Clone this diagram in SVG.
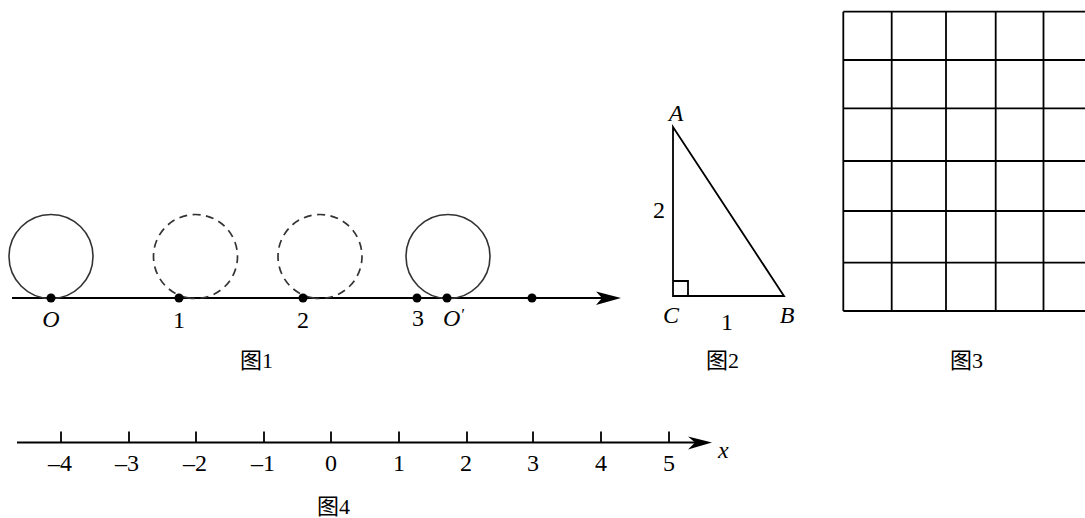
<svg xmlns="http://www.w3.org/2000/svg" width="1085" height="518" viewBox="0 0 1085 518">
<style>
.ln{stroke:#000;stroke-width:1.8;fill:none}
.dash{stroke:#333;stroke-width:1.7;fill:none;stroke-dasharray:8 5.5}
.circ{stroke:#333;stroke-width:1.6;fill:none}
.t{font-family:"Liberation Serif","Times New Roman",serif;font-size:24px;fill:#000}
.it{font-style:italic}
.cap{font-family:"Liberation Serif","Noto Sans CJK SC",serif;font-size:22px;fill:#000}
.n4{font-family:"Liberation Serif","Times New Roman",serif;font-size:24px;fill:#000;text-anchor:middle}
.mid{text-anchor:middle}
</style>
<rect width="1085" height="518" fill="#fff"/>

<g id="fig1">
  <g id="fig1-axis">
    <line class="ln" x1="12" y1="298" x2="604" y2="298"/>
    <path d="M596,291.5 L621,298 L596,305 L602,298 Z" fill="#000"/>
  </g>
  <g id="fig1-circles">
    <circle class="circ" cx="51" cy="256.5" r="42"/>
    <circle class="dash" cx="195.5" cy="256.5" r="42" transform="rotate(100 195.5 256.5)"/>
    <circle class="dash" cx="320" cy="256.5" r="42" transform="rotate(100 320 256.5)"/>
    <circle class="circ" cx="448" cy="256.5" r="42"/>
  </g>
  <g id="fig1-points" fill="#000">
    <circle cx="51" cy="298" r="4.5"/>
    <circle cx="179" cy="298" r="4.5"/>
    <circle cx="303" cy="298" r="4.5"/>
    <circle cx="417" cy="298" r="4.5"/>
    <circle cx="447" cy="298" r="4.5"/>
    <circle cx="532" cy="298" r="4.5"/>
  </g>
  <g id="fig1-labels">
    <text class="t it mid" x="51" y="327">O</text>
    <text class="t mid" x="179" y="328">1</text>
    <text class="t mid" x="303" y="328">2</text>
    <text class="t mid" x="418" y="326">3</text>
    <text class="t it" x="443" y="326">O<tspan font-size="17" dy="-6">′</tspan></text>
    <text class="cap" x="240" y="368">图1</text>
  </g>
</g>

<g id="fig2">
  <path class="ln" d="M673,127 L673,296 L784,296 Z"/>
  <path class="ln" d="M673,281 L688,281 L688,296" stroke-width="1.4"/>
  <text class="t it mid" x="676" y="121">A</text>
  <text class="t mid" x="659" y="218">2</text>
  <text class="t it mid" x="671" y="323">C</text>
  <text class="t mid" x="727" y="330">1</text>
  <text class="t it mid" x="787" y="323">B</text>
  <text class="cap" x="706" y="368">图2</text>
</g>

<g id="fig3">
  <g id="grid" class="ln" stroke-width="1.8">
    <line x1="843.3" y1="11.7" x2="1090" y2="11.7"/>
    <line x1="843.3" y1="60" x2="1090" y2="60"/>
    <line x1="843.3" y1="108.3" x2="1090" y2="108.3"/>
    <line x1="843.3" y1="161" x2="1090" y2="161"/>
    <line x1="843.3" y1="211" x2="1090" y2="211"/>
    <line x1="843.3" y1="262.7" x2="1090" y2="262.7"/>
    <line x1="843.3" y1="311" x2="1090" y2="311"/>
    <line x1="843.3" y1="11.7" x2="843.3" y2="311"/>
    <line x1="891.7" y1="11.7" x2="891.7" y2="311"/>
    <line x1="946" y1="11.7" x2="946" y2="311"/>
    <line x1="995.7" y1="11.7" x2="995.7" y2="311"/>
    <line x1="1043.5" y1="11.7" x2="1043.5" y2="311"/>
  </g>
  <text class="cap" x="950" y="368">图3</text>
</g>

<g id="fig4">
  <g id="fig4-axis">
    <line class="ln" x1="17" y1="442.5" x2="696" y2="442.5"/>
    <path d="M688,436.5 L712,442.5 L688,449.5 L695,442.5 Z" fill="#000"/>
  </g>
  <g id="fig4-ticks" class="ln">
    <line x1="61" y1="431.5" x2="61" y2="442.5"/>
    <line x1="129" y1="431.5" x2="129" y2="442.5"/>
    <line x1="196" y1="431.5" x2="196" y2="442.5"/>
    <line x1="264" y1="431.5" x2="264" y2="442.5"/>
    <line x1="331" y1="431.5" x2="331" y2="442.5"/>
    <line x1="399" y1="431.5" x2="399" y2="442.5"/>
    <line x1="467" y1="431.5" x2="467" y2="442.5"/>
    <line x1="533" y1="431.5" x2="533" y2="442.5"/>
    <line x1="601" y1="431.5" x2="601" y2="442.5"/>
    <line x1="669" y1="431.5" x2="669" y2="442.5"/>
  </g>
  <g id="fig4-labels">
    <text class="n4" x="60" y="471">–4</text>
    <text class="n4" x="127" y="471">–3</text>
    <text class="n4" x="195" y="471">–2</text>
    <text class="n4" x="263" y="471">–1</text>
    <text class="n4" x="331" y="471">0</text>
    <text class="n4" x="399" y="471">1</text>
    <text class="n4" x="466" y="471">2</text>
    <text class="n4" x="533" y="471">3</text>
    <text class="n4" x="601" y="471">4</text>
    <text class="n4" x="669" y="471">5</text>
    <text class="t it" x="718" y="458" font-size="21">x</text>
    <text class="cap" x="317" y="514">图4</text>
  </g>
</g>
</svg>
